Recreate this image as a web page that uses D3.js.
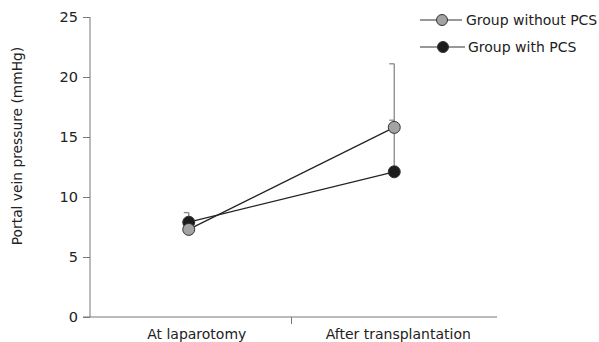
<!DOCTYPE html>
<html><head><meta charset="utf-8">
<script src="https://cdn.jsdelivr.net/npm/d3@7"></script>
<style>body{margin:0;background:#fff}svg{display:block}text{font-family:"DejaVu Sans",Verdana,sans-serif;fill:#222}</style>
</head><body><svg id="c" width="599" height="342"></svg>
<script>
const categories = ["At laparotomy", "After transplantation"];
const seriesNames = ["Group without PCS", "Group with PCS"];
const withoutPCS = [7.3, 15.8];
const withoutPCSErr = [7.9, 21.1];
const withPCS = [7.9, 12.1];
const withPCSErr = [8.7, 16.4];
const yTicks = [0, 5, 10, 15, 20, 25];

const svg = d3.select("#c");
const y = d3.scaleLinear().domain([0, 25]).range([317, 17]);
const x = d3.scaleBand().domain(categories).range([86, 497]);
const axisColor = "#777";

// y axis
const ya = svg.append("g").attr("transform", "translate(90,0)")
  .call(d3.axisLeft(y).tickValues(yTicks).tickSize(7).tickPadding(5));
ya.select(".domain").attr("stroke", axisColor).attr("d", "M0,17V317");
ya.selectAll(".tick line").attr("stroke", axisColor);
ya.selectAll(".tick text").style("font-size", "14.5px").style("font-family", "DejaVu Sans, Verdana, sans-serif").attr("fill", "#222");

// x axis
svg.append("line").attr("x1", 83).attr("x2", 497).attr("y1", 317).attr("y2", 317).attr("stroke", axisColor);
svg.append("line").attr("x1", x.step() + x.range()[0]).attr("x2", x.step() + x.range()[0])
  .attr("y1", 317).attr("y2", 324).attr("stroke", axisColor);
svg.selectAll(".xl").data(categories).enter().append("text")
  .attr("x", d => x(d) + x.bandwidth() / 2 + (d === categories[0] ? 8 : 4))
  .attr("y", 339).attr("text-anchor", "middle").style("font-size", "14px").text(d => d);

// y label
svg.append("text").attr("transform", "translate(22,146) rotate(-90)")
  .attr("text-anchor", "middle").style("font-size", "13.8px").text("Portal vein pressure (mmHg)");

const cx = d => x(d) + x.bandwidth() / 2;
const series = [
  {vals: withoutPCS, err: withoutPCSErr, fill: "#a3a3a3"},
  {vals: withPCS, err: withPCSErr, fill: "#1c1c1c"}
];

// error bars
series.slice().reverse().forEach(s => {
  categories.forEach((c, i) => {
    svg.append("line").attr("x1", cx(c)).attr("x2", cx(c))
      .attr("y1", y(s.vals[i])).attr("y2", y(s.err[i])).attr("stroke", "#888").attr("stroke-width", 1.3);
    svg.append("line").attr("x1", cx(c) - 5).attr("x2", cx(c))
      .attr("y1", y(s.err[i])).attr("y2", y(s.err[i])).attr("stroke", "#888").attr("stroke-width", 1.3);
  });
});

// lines
series.forEach(s => {
  svg.append("path").datum(categories.map((c, i) => [cx(c), y(s.vals[i])]))
    .attr("d", d3.line()).attr("fill", "none").attr("stroke", "#222").attr("stroke-width", 1.2);
});
[series[1], series[0]].forEach(s => {
  svg.selectAll(null).data(categories).enter().append("circle")
    .attr("cx", d => cx(d)).attr("cy", (d, i) => y(s.vals[i])).attr("r", 6)
    .attr("fill", s.fill).attr("stroke", "#333").attr("stroke-width", 1);
});

// legend
const leg = [{name: seriesNames[0], fill: "#a3a3a3", y: 20, x2: 462, c: 442, t: 466},
             {name: seriesNames[1], fill: "#1c1c1c", y: 47, x2: 465, c: 443, t: 468}];
leg.forEach(l => {
  svg.append("line").attr("x1", 420).attr("x2", l.x2).attr("y1", l.y).attr("y2", l.y).attr("stroke", "#333");
  svg.append("circle").attr("cx", l.c).attr("cy", l.y).attr("r", 5.5).attr("fill", l.fill).attr("stroke", "#333");
  svg.append("text").attr("x", l.t).attr("y", l.y + 5).style("font-size", "14px").text(l.name);
});
</script></body></html>
